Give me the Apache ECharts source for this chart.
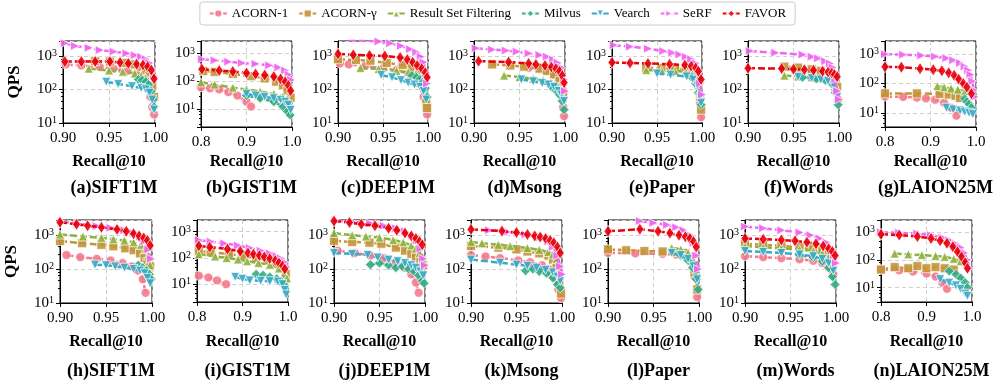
<!DOCTYPE html>
<html>
<head>
<meta charset="utf-8">
<script src="https://cdn.jsdelivr.net/npm/echarts@6/dist/echarts.min.js"></script>
<style>
  html, body { margin: 0; padding: 0; background: #fff; }
  #chart { width: 995px; height: 382px; }
</style>
</head>
<body>
<div id="chart"></div>
<script>
const methods = ['ACORN-1', 'ACORN-γ', 'Result Set Filtering', 'Milvus', 'Vearch', 'SeRF', 'FAVOR'];
const panelNames = ['(a)SIFT1M', '(b)GIST1M', '(c)DEEP1M', '(d)Msong', '(e)Paper', '(f)Words', '(g)LAION25M',
  '(h)SIFT1M', '(i)GIST1M', '(j)DEEP1M', '(k)Msong', '(l)Paper', '(m)Words', '(n)LAION25M'];
const recallMin = [0.9, 0.8, 0.9, 0.9, 0.9, 0.9, 0.8, 0.9, 0.8, 0.9, 0.9, 0.9, 0.9, 0.8];
const qpsMin = [10, 2.2, 10, 10, 10, 10, 3.3, 10, 2.1, 10, 10, 10, 10, 3];
const qpsMax = 2800;

// each panel: [ACORN-1, ACORN-γ, Result Set Filtering, Milvus, Vearch, SeRF, FAVOR], points are [recall, qps]
const siftA = [
  [[0.903,560],[0.92,520],[0.94,470],[0.955,420],[0.97,360],[0.98,300],[0.987,220],[0.992,140],[0.995,60],[0.997,30],[0.999,18]],
  [[0.935,700],[0.951,680],[0.967,620],[0.978,560],[0.985,480],[0.99,380],[0.994,250],[0.997,130],[0.999,60]],
  [[0.928,420],[0.95,370],[0.965,340],[0.978,300],[0.985,260],[0.99,220],[0.993,180]],
  [[0.982,200],[0.986,190],[0.99,170],[0.993,140],[0.996,90],[0.998,50],[0.999,30]],
  [[0.947,170],[0.96,145],[0.975,125],[0.985,110],[0.99,100],[0.994,80],[0.997,50],[0.999,25]],
  [[0.902,2400],[0.913,2000],[0.928,1750],[0.94,1500],[0.955,1350],[0.969,1200],[0.978,1050],[0.985,950],[0.99,800],[0.994,620],[0.997,430],[0.999,250]],
  [[0.902,680],[0.92,680],[0.935,680],[0.951,680],[0.962,640],[0.971,600],[0.98,570],[0.987,540],[0.992,480],[0.996,380],[0.999,210]]
];
const gistB = [
  [[0.8,60],[0.82,55],[0.84,50],[0.86,40],[0.88,30],[0.9,18],[0.91,12]],
  [[0.805,230],[0.83,215],[0.87,180],[0.91,150],[0.94,125],[0.965,95],[0.98,70],[0.99,45],[0.997,25]],
  [[0.8,90],[0.83,75],[0.87,58],[0.9,50],[0.93,42],[0.96,35],[0.98,28],[0.99,22],[0.995,15]],
  [[0.9,30],[0.93,24],[0.96,18],[0.98,12],[0.99,8],[0.996,6]],
  [[0.9,35],[0.92,30],[0.94,27],[0.96,24],[0.975,21],[0.985,18],[0.992,14],[0.997,9]],
  [[0.802,620],[0.83,560],[0.86,500],[0.89,450],[0.92,420],[0.95,370],[0.97,310],[0.985,240],[0.993,170],[0.998,110]],
  [[0.802,270],[0.84,240],[0.87,220],[0.9,195],[0.92,180],[0.94,165],[0.96,145],[0.975,120],[0.985,95],[0.992,70],[0.997,45]]
];
const deepC = [
  [[0.902,600],[0.912,560],[0.93,500],[0.95,430],[0.965,380],[0.98,280],[0.99,150],[0.995,60],[0.998,25],[0.999,18]],
  [[0.9,800],[0.92,760],[0.936,720],[0.954,620],[0.972,540],[0.982,450],[0.99,300],[0.995,150],[0.998,40],[0.999,28]],
  [[0.925,440],[0.945,410],[0.965,360],[0.978,330],[0.987,300],[0.993,250],[0.997,180]],
  [[0.982,260],[0.987,230],[0.991,200],[0.994,160],[0.997,110],[0.999,60]],
  [[0.948,270],[0.96,230],[0.97,190],[0.978,160],[0.985,140],[0.991,120],[0.995,90],[0.998,50]],
  [[0.912,3000],[0.93,2900],[0.945,2700],[0.958,2400],[0.97,2000],[0.98,1600],[0.987,1300],[0.992,950],[0.995,650],[0.998,300],[0.999,150]],
  [[0.9,1150],[0.917,1080],[0.935,1040],[0.952,1000],[0.969,900],[0.977,780],[0.983,650],[0.988,520],[0.993,420],[0.997,320],[0.999,230]]
];
const msongD = [
  [[0.96,440],[0.972,410],[0.98,360],[0.988,280],[0.993,180],[0.996,80],[0.998,30],[0.999,16]],
  [[0.92,560],[0.94,520],[0.955,480],[0.972,420],[0.98,360],[0.988,280],[0.994,180],[0.998,80]],
  [[0.933,260],[0.95,235],[0.965,210],[0.976,190],[0.985,160],[0.992,120],[0.996,80]],
  [[0.985,120],[0.99,95],[0.994,70],[0.997,45],[0.999,25]],
  [[0.952,200],[0.965,175],[0.975,155],[0.982,140],[0.988,120],[0.993,90],[0.996,70],[0.999,45]],
  [[0.902,1700],[0.92,1550],[0.935,1450],[0.947,1350],[0.96,1200],[0.972,1070],[0.98,950],[0.987,780],[0.992,620],[0.996,450],[0.999,200],[1.0,90]],
  [[0.905,700],[0.938,660],[0.96,600],[0.968,560],[0.978,520],[0.985,470],[0.99,420],[0.994,350],[0.997,260],[0.999,160]]
];
const paperE = [
  [[0.97,400],[0.985,370],[0.992,300],[0.996,120],[0.998,40],[0.999,15]],
  [[0.938,440],[0.955,430],[0.97,420],[0.982,400],[0.99,340],[0.995,200],[0.998,60],[0.999,25]],
  [[0.938,380],[0.955,370],[0.97,360],[0.982,340],[0.99,300],[0.995,200],[0.998,80]],
  [[0.988,240],[0.993,150],[0.996,80],[0.999,35]],
  [[0.95,300],[0.965,275],[0.983,245],[0.99,200],[0.995,130],[0.998,60],[0.999,40]],
  [[0.902,2100],[0.92,1900],[0.94,1650],[0.957,1400],[0.967,1250],[0.975,1100],[0.982,950],[0.988,800],[0.993,600],[0.996,350],[0.998,150],[1.0,70]],
  [[0.9,640],[0.92,620],[0.94,600],[0.964,570],[0.981,540],[0.988,500],[0.993,440],[0.996,350],[0.999,200]]
];
const wordsF = [
  [[0.97,350],[0.985,300],[0.992,200],[0.996,100],[0.999,50]],
  [[0.94,480],[0.955,450],[0.97,400],[0.98,360],[0.99,300],[0.995,200],[0.998,120]],
  [[0.94,260],[0.955,245],[0.97,230],[0.98,215],[0.99,190],[0.995,150],[0.998,100]],
  [[0.96,230],[0.975,210],[0.985,190],[0.992,150],[0.996,80],[0.999,35]],
  [[0.955,240],[0.97,220],[0.98,200],[0.988,180],[0.994,130],[0.998,60]],
  [[0.902,1400],[0.93,1250],[0.96,1100],[0.97,950],[0.977,850],[0.985,700],[0.99,600],[0.993,450],[0.996,200],[0.998,90],[1.0,50]],
  [[0.9,430],[0.937,420],[0.95,405],[0.962,390],[0.972,375],[0.982,350],[0.988,330],[0.992,310],[0.995,280],[0.998,240]]
];
const laionG = [
  [[0.8,36],[0.84,35],[0.87,33],[0.89,31],[0.91,28],[0.93,22],[0.945,15],[0.957,8]],
  [[0.8,46],[0.87,46],[0.92,44],[0.94,42],[0.955,38],[0.965,32]],
  [[0.915,82],[0.93,75],[0.945,68],[0.96,62],[0.976,55]],
  [[0.975,30],[0.98,24],[0.985,20],[0.99,15]],
  [[0.935,15],[0.95,13],[0.965,12],[0.975,11],[0.985,10],[0.993,9]],
  [[0.8,1000],[0.84,960],[0.88,900],[0.91,830],[0.935,730],[0.95,620],[0.965,500],[0.975,380],[0.983,280],[0.988,200],[0.992,120],[0.995,60],[0.997,35]],
  [[0.8,370],[0.836,360],[0.877,320],[0.906,295],[0.925,270],[0.94,230],[0.952,190],[0.962,140],[0.972,100],[0.98,75],[0.99,45]]
];
const siftH = [
  [[0.907,260],[0.922,225],[0.94,200],[0.955,180],[0.968,150],[0.978,120],[0.985,90],[0.99,50],[0.993,20]],
  [[0.9,670],[0.924,580],[0.945,520],[0.958,470],[0.971,410],[0.98,360],[0.987,290],[0.992,210],[0.995,160],[0.998,120]],
  [[0.9,1050],[0.925,920],[0.945,840],[0.958,760],[0.97,700],[0.98,620],[0.988,520],[0.993,400],[0.996,250],[0.998,130]],
  [[0.985,130],[0.99,110],[0.994,90],[0.997,70],[0.999,50]],
  [[0.938,135],[0.95,130],[0.96,120],[0.97,110],[0.98,100],[0.987,90],[0.992,75],[0.995,55],[0.998,38]],
  [[0.902,2500],[0.92,2200],[0.94,1850],[0.955,1650],[0.97,1400],[0.98,1150],[0.987,900],[0.992,650],[0.996,380],[0.999,200]],
  [[0.9,2400],[0.918,2100],[0.93,1900],[0.945,1700],[0.962,1480],[0.972,1300],[0.98,1100],[0.986,950],[0.991,830],[0.995,700],[0.998,500]]
];
const gistI = [
  [[0.804,21],[0.825,18],[0.844,14],[0.864,10]],
  [[0.804,180],[0.83,165],[0.87,140],[0.9,120],[0.93,100],[0.955,80],[0.975,60],[0.987,42],[0.995,25]],
  [[0.804,140],[0.84,115],[0.865,100],[0.89,88],[0.91,75],[0.935,65],[0.96,55],[0.98,40],[0.992,25],[0.998,17]],
  [[0.93,24],[0.945,22],[0.96,19],[0.975,16],[0.985,13],[0.99,10]],
  [[0.884,19],[0.9,16],[0.916,14],[0.94,13.5],[0.96,13],[0.978,12.5],[0.988,10],[0.993,6],[0.996,4]],
  [[0.804,480],[0.83,420],[0.86,360],[0.89,300],[0.916,240],[0.94,190],[0.96,150],[0.975,120],[0.985,95],[0.992,70],[0.997,45]],
  [[0.804,290],[0.828,260],[0.867,220],[0.895,180],[0.912,155],[0.924,140],[0.937,125],[0.948,110],[0.96,95],[0.972,80],[0.98,65],[0.988,50],[0.993,38]]
];
const deepJ = [
  [[0.904,350],[0.923,300],[0.94,250],[0.955,210],[0.968,160],[0.978,110],[0.985,70],[0.99,40],[0.993,20]],
  [[0.9,680],[0.92,630],[0.939,600],[0.952,560],[0.968,430],[0.978,350],[0.985,280],[0.99,220],[0.995,170],[0.998,130]],
  [[0.9,1150],[0.92,1000],[0.935,920],[0.95,850],[0.965,720],[0.976,620],[0.985,500],[0.99,400],[0.994,300],[0.997,200]],
  [[0.94,135],[0.95,150],[0.96,130],[0.968,110],[0.975,120],[0.982,100],[0.988,85],[0.993,65],[0.997,45],[0.999,38]],
  [[0.9,300],[0.92,280],[0.937,260],[0.948,220],[0.96,190],[0.97,170],[0.978,150],[0.985,130],[0.99,110],[0.995,85],[0.998,65]],
  [[0.902,2700],[0.92,2500],[0.94,2200],[0.955,1900],[0.968,1600],[0.978,1300],[0.986,1000],[0.991,700],[0.995,400],[0.998,200],[1.0,130]],
  [[0.9,2600],[0.917,2350],[0.93,2100],[0.945,1900],[0.96,1600],[0.969,1400],[0.978,1150],[0.985,950],[0.99,800],[0.994,650],[0.997,520]]
];
const msongK = [
  [[0.9,260],[0.916,235],[0.932,210],[0.952,180],[0.965,160],[0.978,130],[0.986,100],[0.992,60],[0.996,25],[0.999,14]],
  [[0.9,480],[0.93,430],[0.95,380],[0.962,330],[0.975,290],[0.985,250],[0.99,190],[0.994,110],[0.997,40],[0.999,19]],
  [[0.9,640],[0.912,580],[0.93,520],[0.943,480],[0.962,420],[0.975,370],[0.985,320],[0.99,270],[0.994,200],[0.997,120]],
  [[0.96,90],[0.968,100],[0.975,85],[0.983,75],[0.99,55],[0.995,35],[0.998,28]],
  [[0.9,190],[0.932,155],[0.95,135],[0.962,125],[0.972,110],[0.982,95],[0.99,80],[0.995,60],[0.998,45]],
  [[0.92,1400],[0.94,1250],[0.96,1050],[0.975,850],[0.985,650],[0.99,450],[0.995,250],[0.998,120],[1.0,70]],
  [[0.9,1480],[0.934,1320],[0.95,1200],[0.962,1050],[0.97,950],[0.976,880],[0.982,800],[0.987,700],[0.991,600],[0.995,450],[0.998,300]]
];
const paperL = [
  [[0.9,300],[0.93,290],[0.96,280],[0.975,270],[0.985,250],[0.99,180],[0.995,60],[0.998,15]],
  [[0.9,380],[0.92,360],[0.94,340],[0.96,330],[0.975,320],[0.985,300],[0.99,220],[0.995,80],[0.998,25]],
  [[0.97,420],[0.98,380],[0.988,300],[0.993,200],[0.997,100]],
  [[0.98,250],[0.988,180],[0.993,110],[0.997,50],[0.999,25]],
  [[0.97,300],[0.98,260],[0.988,200],[0.994,120],[0.998,50]],
  [[0.935,2600],[0.95,2300],[0.965,2000],[0.975,1700],[0.983,1400],[0.99,1000],[0.994,600],[0.997,250],[0.999,100]],
  [[0.9,1300],[0.935,1500],[0.955,1300],[0.968,1150],[0.978,1000],[0.985,900],[0.99,800],[0.994,650],[0.997,450]]
];
const wordsM = [
  [[0.9,240],[0.92,225],[0.94,210],[0.96,195],[0.975,175],[0.985,150],[0.992,110],[0.997,70]],
  [[0.9,560],[0.92,520],[0.94,480],[0.96,440],[0.975,400],[0.985,340],[0.992,260],[0.996,180]],
  [[0.9,480],[0.92,440],[0.94,410],[0.96,380],[0.975,340],[0.985,290],[0.992,220],[0.997,130]],
  [[0.96,260],[0.975,220],[0.985,170],[0.992,110],[0.996,60],[0.999,35]],
  [[0.9,340],[0.92,320],[0.94,300],[0.96,270],[0.975,240],[0.985,200],[0.992,150],[0.997,90]],
  [[0.9,1800],[0.92,1600],[0.94,1400],[0.96,1200],[0.972,1000],[0.982,800],[0.99,600],[0.995,400],[0.998,250],[1.0,150]],
  [[0.9,800],[0.92,760],[0.94,720],[0.955,680],[0.968,620],[0.978,560],[0.986,480],[0.992,400],[0.996,330],[0.999,250]]
];
const laionN = [
  [[0.8,45],[0.84,42],[0.87,38],[0.9,32],[0.92,25],[0.935,15],[0.945,9]],
  [[0.8,45],[0.83,55],[0.86,50],[0.88,60],[0.9,50],[0.92,55],[0.94,50],[0.96,45]],
  [[0.83,170],[0.86,160],[0.89,150],[0.92,140],[0.94,130],[0.96,110],[0.975,90]],
  [[0.95,40],[0.965,30],[0.975,22],[0.985,15],[0.99,10]],
  [[0.93,20],[0.95,15],[0.965,12],[0.975,9],[0.985,6],[0.99,5]],
  [[0.8,1000],[0.84,960],[0.88,900],[0.91,800],[0.935,650],[0.95,520],[0.965,380],[0.975,280],[0.983,180],[0.99,100],[0.995,50]],
  [[0.8,850],[0.84,800],[0.88,700],[0.91,600],[0.93,500],[0.945,400],[0.958,300],[0.968,200],[0.977,130],[0.985,80],[0.99,50]]
];
const panels = [siftA, gistB, deepC, msongD, paperE, wordsF, laionG, siftH, gistI, deepJ, msongK, paperL, wordsM, laionN];

// layout: [left, top, width, height] per panel
const boxes = [
  [63, 41, 92, 82], [201, 41, 91, 86], [338, 41, 90, 82], [474, 41, 91, 82], [612, 41, 90, 82], [748, 41, 91, 82], [885, 41, 91, 86],
  [60, 220, 92, 83], [197, 220, 91, 82], [334, 220, 91, 83], [471, 220, 91, 83], [608, 220, 91, 83], [745, 220, 91, 83], [881, 220, 91, 82]
];
const colors = ['#f47a8c', '#c49538', '#8eb13c', '#35ab86', '#3aaac6', '#f066f0', '#e8000b'];
const symbols = ['circle', 'rect', 'triangle', 'diamond',
  'path://M0,0 L10,0 L5,9 Z', 'path://M0,0 L9,5 L0,10 Z', 'path://M5,0 L9,5 L5,10 L1,5 Z'];
const symbolSizes = [9, 9, 9, 10, 9, 9, [8, 12]];

const FONT = 'Liberation Serif';
const chart = echarts.init(document.getElementById('chart'));

const grids = [], xAxes = [], yAxes = [], titles = [], series = [];
panels.forEach((panel, p) => {
  const [l, t, w, h] = boxes[p];
  const bottomRow = p >= 7;
  grids.push({ left: l, top: t, width: w, height: h, show: true, borderColor: '#000', borderWidth: 1, containLabel: false });
  const step = recallMin[p] === 0.8 ? 0.1 : 0.05;
  const digits = recallMin[p] === 0.8 ? 1 : 2;
  xAxes.push({
    type: 'value', gridIndex: p, min: recallMin[p], max: 1.0, interval: step,
    name: 'Recall@10', nameLocation: 'middle', nameGap: (bottomRow ? 342 : 162) - (t + h) - 8,
    nameTextStyle: { fontFamily: FONT, fontWeight: 'bold', fontSize: 16, color: '#000' },
    axisLine: { lineStyle: { color: '#000', width: 1 } },
    axisTick: { show: true, length: 4, lineStyle: { color: '#000' } },
    axisLabel: { fontFamily: FONT, fontSize: 15, color: '#000', margin: 8,
      formatter: v => v.toFixed(digits) },
    splitLine: { show: true, lineStyle: { color: '#d0d0d0', type: [4, 3], width: 1 } }
  });
  yAxes.push({
    type: 'log', logBase: 10, gridIndex: p, min: qpsMin[p], max: qpsMax,
    name: (p === 0 || p === 7) ? 'QPS' : '', nameLocation: 'middle', nameRotate: 90, nameGap: 40,
    nameTextStyle: { fontFamily: FONT, fontWeight: 'bold', fontSize: 17, color: '#000' },
    axisLine: { onZero: false, lineStyle: { color: '#000', width: 1 } },
    axisTick: { show: true, length: 4, lineStyle: { color: '#000' } },
    minorTick: { show: true, splitNumber: 5, length: 2, lineStyle: { color: '#000' } },
    axisLabel: {
      fontFamily: FONT, fontSize: 15, color: '#000', margin: 6,
      formatter: v => {
        const e = Math.log10(v);
        if (Math.abs(e - Math.round(e)) > 0.01) return '';
        return '{b|10}{s|' + Math.round(e) + '}';
      },
      rich: {
        b: { fontFamily: FONT, fontSize: 15, color: '#000' },
        s: { fontFamily: FONT, fontSize: 10, color: '#000', verticalAlign: 'top', lineHeight: 10 }
      }
    },
    splitLine: { show: true, lineStyle: { color: '#d0d0d0', type: [4, 3], width: 1 } }
  });
  titles.push({
    text: panelNames[p], left: l + w / 2, top: bottomRow ? 357 : 174, textAlign: 'center',
    textStyle: { fontFamily: FONT, fontWeight: 'bold', fontSize: 18, color: '#000' }
  });
  panel.forEach((pts, k) => {
    series.push({
      type: 'line', name: methods[k], xAxisIndex: p, yAxisIndex: p, data: pts,
      symbol: symbols[k], symbolSize: symbolSizes[k], showAllSymbol: true, clip: true,
      z: 2 + k,
      lineStyle: { color: colors[k], width: 2.5, type: [7, 3] },
      itemStyle: { color: colors[k], borderColor: '#fff', borderWidth: 0.8, opacity: 0.9 },
      emphasis: { disabled: true }
    });
  });
});

chart.setOption({
  animation: false,
  backgroundColor: '#fff',
  title: titles,
  legend: {
    data: methods, top: 2, left: 'center', orient: 'horizontal',
    borderColor: '#ccc', borderWidth: 1, borderRadius: 3, padding: [5, 9],
    itemGap: 10, itemWidth: 17, itemHeight: 10,
    textStyle: { fontFamily: FONT, fontSize: 13, color: '#000' }
  },
  grid: grids,
  xAxis: xAxes,
  yAxis: yAxes,
  series: series
});
</script>
</body>
</html>
